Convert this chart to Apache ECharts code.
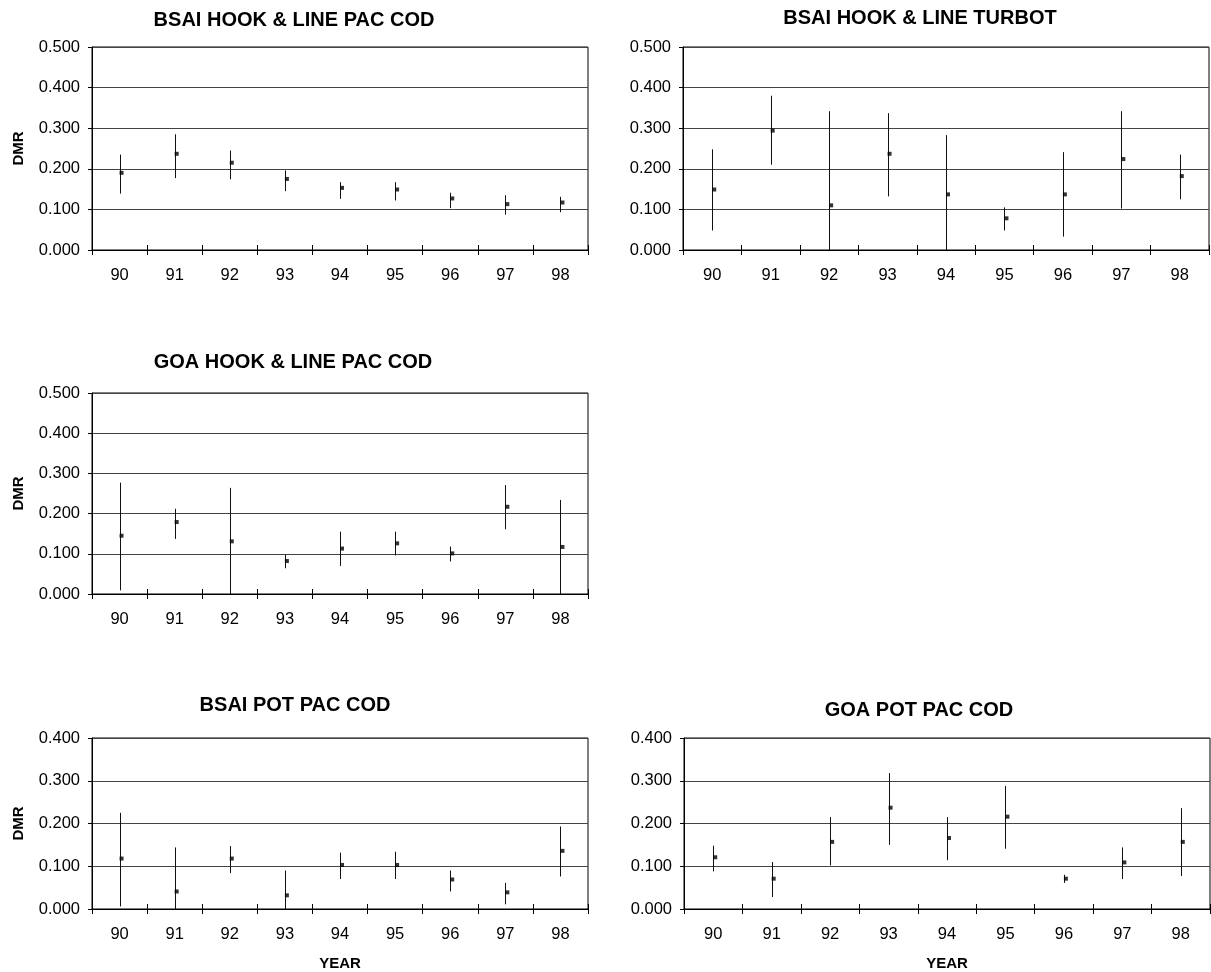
<!DOCTYPE html>
<html>
<head>
<meta charset="utf-8">
<title>DMR by year</title>
<script src="https://cdn.jsdelivr.net/npm/echarts@6/dist/echarts.min.js"></script>
<style>
  html, body { margin: 0; padding: 0; background: #fff; }
  #chart { width: 1211px; height: 972px; }
</style>
</head>
<body>
<div id="chart"></div>
<script>
// years on the x axis
const years = ['90', '91', '92', '93', '94', '95', '96', '97', '98']

// BSAI hook & line pacific cod
const bsaiHlCodDmr = [0.190, 0.237, 0.215, 0.175, 0.153, 0.149, 0.127, 0.113, 0.117]
const bsaiHlCodLow = [0.139, 0.177, 0.174, 0.145, 0.126, 0.122, 0.103, 0.087, 0.093]
const bsaiHlCodHigh = [0.235, 0.285, 0.245, 0.196, 0.167, 0.167, 0.141, 0.135, 0.131]

// BSAI hook & line turbot
const bsaiHlTurbotDmr = [0.149, 0.294, 0.110, 0.237, 0.137, 0.078, 0.137, 0.224, 0.182]
const bsaiHlTurbotLow = [0.048, 0.210, 0.000, 0.132, 0.000, 0.048, 0.033, 0.102, 0.125]
const bsaiHlTurbotHigh = [0.248, 0.380, 0.342, 0.337, 0.283, 0.105, 0.241, 0.342, 0.235]

// GOA hook & line pacific cod
const goaHlCodDmr = [0.145, 0.179, 0.131, 0.082, 0.113, 0.126, 0.101, 0.217, 0.117]
const goaHlCodLow = [0.009, 0.137, 0.000, 0.064, 0.070, 0.096, 0.081, 0.161, 0.000]
const goaHlCodHigh = [0.277, 0.212, 0.264, 0.098, 0.155, 0.155, 0.118, 0.271, 0.234]

// BSAI pot pacific cod
const bsaiPotCodDmr = [0.118, 0.041, 0.118, 0.032, 0.103, 0.103, 0.069, 0.039, 0.136]
const bsaiPotCodLow = [0.006, 0.000, 0.084, 0.000, 0.070, 0.070, 0.041, 0.011, 0.076]
const bsaiPotCodHigh = [0.225, 0.144, 0.147, 0.090, 0.132, 0.134, 0.090, 0.061, 0.193]

// GOA pot pacific cod
const goaPotCodDmr = [0.121, 0.071, 0.157, 0.237, 0.166, 0.216, 0.071, 0.109, 0.157]
const goaPotCodLow = [0.088, 0.028, 0.102, 0.150, 0.114, 0.141, 0.061, 0.070, 0.077]
const goaPotCodHigh = [0.148, 0.110, 0.215, 0.318, 0.215, 0.288, 0.080, 0.144, 0.236]

const panels = [
  { title: 'BSAI HOOK & LINE PAC COD', dmr: bsaiHlCodDmr, low: bsaiHlCodLow, high: bsaiHlCodHigh,
    max: 0.5, dmrLabel: true, yearLabel: false,
    box: { left: 92, top: 47, width: 496, height: 203 }, titleX: 294, titleY: 20 },
  { title: 'BSAI HOOK & LINE TURBOT', dmr: bsaiHlTurbotDmr, low: bsaiHlTurbotLow, high: bsaiHlTurbotHigh,
    max: 0.5, dmrLabel: false, yearLabel: false,
    box: { left: 683, top: 47, width: 526, height: 203 }, titleX: 920, titleY: 18 },
  { title: 'GOA HOOK & LINE PAC COD', dmr: goaHlCodDmr, low: goaHlCodLow, high: goaHlCodHigh,
    max: 0.5, dmrLabel: true, yearLabel: false,
    box: { left: 92, top: 393, width: 496, height: 201 }, titleX: 293, titleY: 362 },
  { title: 'BSAI POT PAC COD', dmr: bsaiPotCodDmr, low: bsaiPotCodLow, high: bsaiPotCodHigh,
    max: 0.4, dmrLabel: true, yearLabel: true,
    box: { left: 92, top: 738, width: 496, height: 171 }, titleX: 295, titleY: 705 },
  { title: 'GOA POT PAC COD', dmr: goaPotCodDmr, low: goaPotCodLow, high: goaPotCodHigh,
    max: 0.4, dmrLabel: false, yearLabel: true,
    box: { left: 684, top: 738, width: 526, height: 171 }, titleX: 919, titleY: 710 }
]

const font = 'Liberation Sans, Arial, sans-serif'

const chart = echarts.init(document.getElementById('chart'), null, { renderer: 'canvas' })

const grid = []
const xAxis = []
const yAxis = []
const series = []
const graphic = []

panels.forEach((p, i) => {
  grid.push({
    left: p.box.left,
    top: p.box.top,
    width: p.box.width,
    height: p.box.height,
    show: true,
    borderColor: '#000',
    borderWidth: 1,
    backgroundColor: 'transparent'
  })

  // main category axis, ticks below the line
  xAxis.push({
    type: 'category',
    gridIndex: i,
    data: years,
    boundaryGap: true,
    position: 'bottom',
    axisLine: { lineStyle: { color: '#000', width: 1 } },
    axisTick: { show: true, length: 5, lineStyle: { color: '#000' } },
    axisLabel: { color: '#000', fontSize: 16.5, fontFamily: font, margin: 17 },
    name: p.yearLabel ? 'YEAR' : '',
    nameLocation: 'middle',
    nameGap: 47,
    nameTextStyle: { color: '#000', fontSize: 15, fontWeight: 'bold', fontFamily: font }
  })
  // second axis only for the part of the tick above the line
  xAxis.push({
    type: 'category',
    gridIndex: i,
    data: years,
    boundaryGap: true,
    position: 'bottom',
    axisLine: { show: false },
    axisTick: { show: true, inside: true, length: 5, lineStyle: { color: '#000' } },
    axisLabel: { show: false }
  })

  yAxis.push({
    type: 'value',
    gridIndex: i,
    min: 0,
    max: p.max,
    interval: 0.1,
    axisLine: { show: true, lineStyle: { color: '#000' } },
    axisTick: { show: true, length: 4, lineStyle: { color: '#000' } },
    axisLabel: {
      color: '#000', fontSize: 16.5, fontFamily: font, margin: 12,
      formatter: v => v.toFixed(3)
    },
    splitLine: { show: true, lineStyle: { color: '#444', width: 1 } },
    name: p.dmrLabel ? 'DMR' : '',
    nameLocation: 'middle',
    nameGap: 66,
    nameRotate: 90,
    nameTextStyle: { color: '#000', fontSize: 15, fontWeight: 'bold', fontFamily: font }
  })

  const bars = years.map((y, k) => [k, p.low[k], p.high[k]])

  series.push({
    type: 'custom',
    xAxisIndex: i * 2,
    yAxisIndex: i,
    data: bars,
    renderItem: (params, api) => {
      const k = api.value(0)
      const lo = api.coord([k, api.value(1)])
      const hi = api.coord([k, api.value(2)])
      const x = Math.round(lo[0]) + 0.5
      return {
        type: 'line',
        shape: { x1: x, y1: lo[1], x2: x, y2: hi[1] },
        style: { stroke: '#111', lineWidth: 1 }
      }
    },
    silent: true,
    z: 3
  })

  series.push({
    type: 'scatter',
    xAxisIndex: i * 2,
    yAxisIndex: i,
    data: p.dmr,
    symbol: 'rect',
    symbolSize: [4, 4],
    symbolOffset: [2, 0],
    itemStyle: { color: '#000' },
    silent: true,
    z: 4
  })

  graphic.push({
    type: 'text',
    x: p.titleX,
    y: p.titleY,
    style: {
      text: p.title,
      fill: '#000',
      font: 'bold 20px ' + font,
      textAlign: 'center',
      textVerticalAlign: 'middle'
    }
  })
})

chart.setOption({
  animation: false,
  backgroundColor: '#fff',
  grid,
  xAxis,
  yAxis,
  series,
  graphic
})
</script>
</body>
</html>
